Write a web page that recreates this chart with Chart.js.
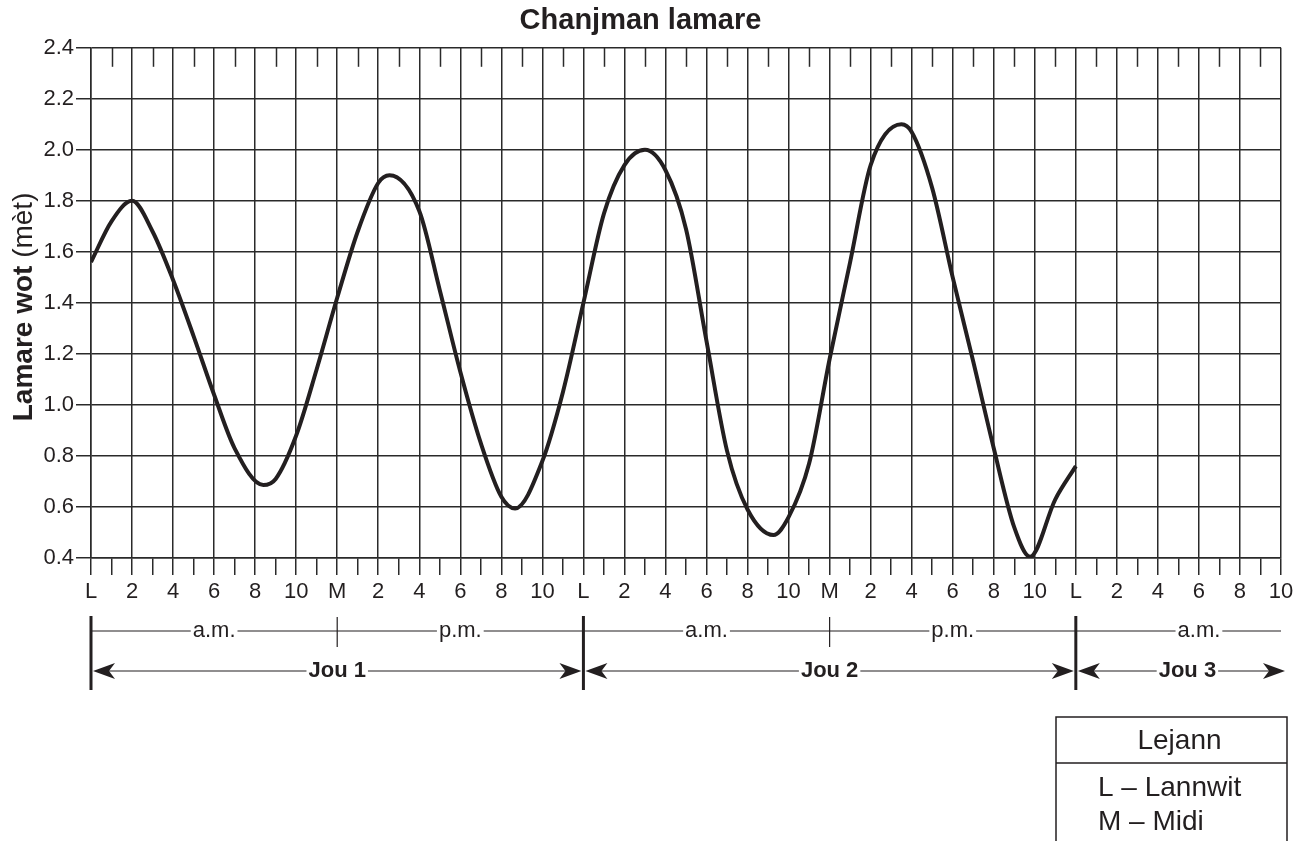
<!DOCTYPE html>
<html>
<head>
<meta charset="utf-8">
<title>Chanjman lamare</title>
<script src="https://cdn.jsdelivr.net/npm/chart.js@4.4.1/dist/chart.umd.min.js"></script>
<style>
    html, body { margin: 0; padding: 0; background: #ffffff; }
    #wrap { width: 1307px; height: 841px; position: relative; }
</style>
</head>
<body>
<div id="wrap"><canvas id="tideChart"></canvas></div>
<script>
// Hours since midnight of day 1 and water height (metres)
const hours = [0, 1, 2, 3, 4, 5, 6, 7, 8.4, 9, 10, 11, 12, 13, 14, 14.55, 16, 17, 18, 19, 20, 20.67,
    22, 23, 24, 25, 26, 27, 28, 29, 30, 31, 32, 33.26, 34, 35, 36, 37, 38, 39.5, 40,
    41, 42, 43, 44, 45, 45.77, 47, 48];
const levels = [1.56, 1.72, 1.80, 1.68, 1.49, 1.27, 1.04, 0.83, 0.686, 0.71, 0.88, 1.14, 1.42, 1.68, 1.87, 1.90, 1.76, 1.45, 1.13, 0.85, 0.64, 0.594,
    0.78, 1.05, 1.40, 1.75, 1.94, 2.00, 1.92, 1.69, 1.25, 0.82, 0.59, 0.49, 0.56, 0.77, 1.18, 1.56, 1.94, 2.10, 2.07,
    1.85, 1.50, 1.17, 0.83, 0.52, 0.405, 0.63, 0.76];

// Tick labels, one per 2 hours (0 .. 58)
const xTickLabels = ['L', '2', '4', '6', '8', '10', 'M', '2', '4', '6', '8', '10',
    'L', '2', '4', '6', '8', '10', 'M', '2', '4', '6', '8', '10',
    'L', '2', '4', '6', '8', '10'];

// Morning / afternoon bands and days under the axis
const periodLabels = ['a.m.', 'p.m.', 'a.m.', 'p.m.', 'a.m.'];
const periodCenters = [6, 18, 30, 42, 54];
const middayHours = [12, 36];
const dayLabels = ['Jou 1', 'Jou 2', 'Jou 3'];
const dayStarts = [0, 24, 48];
const dayEnds = [24, 48, 58];

const legendTitle = 'Lejann';
const legendLines = ['L – Lannwit', 'M – Midi'];

const INK = '#231f20';
const GRID = '#2a2a2a';
const FONT = "'Liberation Sans', Arial, Helvetica, sans-serif";

Chart.defaults.font.family = FONT;
Chart.defaults.color = INK;

/**
 * Draw extra marks: short top ticks, axis title, day brackets and legend box
 */
const tideDecorations = {
    id: 'tideDecorations',
    afterDraw(chart) {
        const ctx = chart.ctx;
        const area = chart.chartArea;
        const xs = chart.scales.x;
        const px = (h) => xs.getPixelForValue(h);

        ctx.save();

        // short ticks on the top edge for odd hours
        ctx.strokeStyle = GRID;
        ctx.lineWidth = 1.5;
        for (let h = 1; h < 58; h += 2) {
            const x = Math.round(px(h)) + 0.5;
            ctx.beginPath();
            ctx.moveTo(x, area.top);
            ctx.lineTo(x, area.top + 19);
            ctx.stroke();
        }

        // y axis title: bold part + normal part, rotated
        ctx.save();
        ctx.translate(24, (area.top + area.bottom) / 2 + 4);
        ctx.rotate(-Math.PI / 2);
        ctx.fillStyle = INK;
        ctx.textBaseline = 'middle';
        const boldPart = 'Lamare wot ';
        const normPart = '(mèt)';
        ctx.font = `bold 28px ${FONT}`;
        const wBold = ctx.measureText(boldPart).width;
        ctx.font = `28px ${FONT}`;
        const wNorm = ctx.measureText(normPart).width;
        const start = -(wBold + wNorm) / 2;
        ctx.textAlign = 'left';
        ctx.font = `bold 28px ${FONT}`;
        ctx.fillText(boldPart, start, 0);
        ctx.font = `28px ${FONT}`;
        ctx.fillText(normPart, start + wBold, 0);
        ctx.restore();

        // a.m. / p.m. row
        const rowY = 631;
        ctx.strokeStyle = INK;
        ctx.lineWidth = 1.2;
        ctx.beginPath();
        ctx.moveTo(px(0), rowY);
        ctx.lineTo(px(58), rowY);
        ctx.stroke();

        ctx.font = `22px ${FONT}`;
        ctx.textAlign = 'center';
        ctx.textBaseline = 'middle';
        periodLabels.forEach((lab, i) => {
            const cx = px(periodCenters[i]);
            const w = ctx.measureText(lab).width;
            ctx.fillStyle = '#ffffff';
            ctx.fillRect(cx - w / 2 - 2, rowY - 12, w + 4, 24);
            ctx.fillStyle = INK;
            ctx.fillText(lab, cx, rowY);
        });

        // midday ticks
        ctx.lineWidth = 1.2;
        middayHours.forEach(h => {
            const x = px(h);
            ctx.beginPath();
            ctx.moveTo(x, 617);
            ctx.lineTo(x, 647);
            ctx.stroke();
        });

        // midnight bars
        ctx.lineWidth = 3;
        dayStarts.forEach(h => {
            const x = px(h);
            ctx.beginPath();
            ctx.moveTo(x, 616);
            ctx.lineTo(x, 690);
            ctx.stroke();
        });

        // day arrows
        const arrowY = 671;
        const arrowHead = (tipX, dir) => {
            ctx.beginPath();
            ctx.moveTo(tipX, arrowY);
            ctx.lineTo(tipX + dir * 22, arrowY - 8);
            ctx.lineTo(tipX + dir * 16, arrowY);
            ctx.lineTo(tipX + dir * 22, arrowY + 8);
            ctx.closePath();
            ctx.fill();
        };
        ctx.font = `bold 22px ${FONT}`;
        dayLabels.forEach((lab, i) => {
            const x0 = px(dayStarts[i]) + 2;
            const x1 = i === dayLabels.length - 1 ? px(dayEnds[i]) + 4 : px(dayEnds[i]) - 2;
            ctx.strokeStyle = INK;
            ctx.fillStyle = INK;
            ctx.lineWidth = 1.2;
            ctx.beginPath();
            ctx.moveTo(x0 + 10, arrowY);
            ctx.lineTo(x1 - 10, arrowY);
            ctx.stroke();
            arrowHead(x0, 1);
            arrowHead(x1, -1);
            const cx = (x0 + x1) / 2 + (i === 2 ? 6 : 0);
            const w = ctx.measureText(lab).width;
            ctx.fillStyle = '#ffffff';
            ctx.fillRect(cx - w / 2 - 2, arrowY - 13, w + 4, 26);
            ctx.fillStyle = INK;
            ctx.fillText(lab, cx, arrowY);
        });

        // legend box
        const bx = 1056, bw = 231, by = 717;
        ctx.strokeStyle = INK;
        ctx.lineWidth = 1.5;
        ctx.beginPath();
        ctx.moveTo(bx, chart.height + 2);
        ctx.lineTo(bx, by);
        ctx.lineTo(bx + bw, by);
        ctx.lineTo(bx + bw, chart.height + 2);
        ctx.moveTo(bx, 763);
        ctx.lineTo(bx + bw, 763);
        ctx.stroke();
        ctx.fillStyle = INK;
        ctx.font = `28px ${FONT}`;
        ctx.textAlign = 'center';
        ctx.fillText(legendTitle, bx + bw / 2 + 8, 741);
        ctx.textAlign = 'left';
        legendLines.forEach((line, i) => {
            ctx.fillText(line, 1098, 788 + i * 34);
        });

        ctx.restore();
    }
};

const points = hours.map((h, i) => ({ x: h, y: levels[i] }));

new Chart(document.getElementById('tideChart'), {
    type: 'line',
    data: {
        datasets: [{
            label: 'Lamare wot',
            data: points,
            borderColor: INK,
            borderWidth: 4,
            pointRadius: 0,
            fill: false,
            cubicInterpolationMode: 'monotone',
        }]
    },
    options: {
        responsive: true,
        maintainAspectRatio: false,
        animation: false,
        layout: { padding: { top: 0, left: 0, right: 26, bottom: 223 } },
        plugins: {
            legend: { display: false },
            tooltip: { enabled: false },
            title: {
                display: true,
                text: 'Chanjman lamare',
                color: INK,
                font: { size: 29, weight: 'bold' },
                padding: { top: 4, bottom: 9 },
            },
        },
        scales: {
            x: {
                type: 'linear',
                min: 0,
                max: 58,
                ticks: {
                    stepSize: 1,
                    autoSkip: false,
                    maxRotation: 0,
                    minRotation: 0,
                    padding: 4,
                    color: INK,
                    font: { size: 22 },
                    callback: (v) => (v % 2 === 0 ? xTickLabels[v / 2] : ''),
                },
                grid: {
                    color: (c) => (c.tick && c.tick.value % 2 === 0 ? GRID : 'rgba(0,0,0,0)'),
                    tickColor: GRID,
                    lineWidth: 1.5,
                    tickLength: 17,
                },
                border: { color: GRID, width: 1.5 },
                afterFit: (s) => { s.height = 60; },
            },
            y: {
                min: 0.4,
                max: 2.4,
                ticks: {
                    stepSize: 0.2,
                    padding: 2,
                    color: INK,
                    font: { size: 22 },
                    callback: (v) => Number(v).toFixed(1),
                },
                grid: {
                    color: GRID,
                    lineWidth: 1.5,
                    tickLength: 15,
                },
                border: { color: GRID, width: 1.5 },
                afterFit: (s) => { s.width = 91; },
            },
        },
    },
    plugins: [tideDecorations],
});
</script>
</body>
</html>
